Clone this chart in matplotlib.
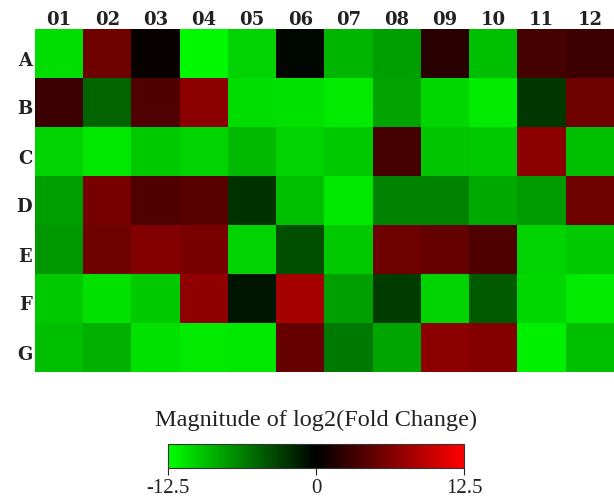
import numpy as np
import matplotlib.pyplot as plt
import matplotlib.transforms as mtransforms
from matplotlib.colors import LinearSegmentedColormap

# ---- plate layout: rows A-G, columns 01-12, log2 fold change ----
ROWS = ["A", "B", "C", "D", "E", "F", "G"]
COLS = ["01", "02", "03", "04", "05", "06", "07", "08", "09", "10", "11", "12"]

row_A = [-10.8, 5.4, 0.3, -12.2, -10.3, -0.3, -8.8, -7.8, 2.0, -9.3, 3.4, 3.0]
row_B = [3.0, -4.9, 4.0, 6.9, -10.8, -11.0, -11.5, -8.0, -10.5, -11.5, -2.7, 5.4]
row_C = [-10.3, -11.3, -9.8, -10.3, -9.0, -10.3, -9.8, 3.4, -9.6, -9.8, 6.9, -9.3]
row_D = [-7.8, 5.9, 3.9, 4.2, -2.5, -9.3, -11.3, -6.4, -6.4, -8.3, -7.6, 5.4]
row_E = [-7.4, 5.4, 6.4, 5.9, -10.3, -3.9, -9.8, 5.4, 4.9, 3.9, -10.3, -9.8]
row_F = [-9.8, -11.0, -9.8, 7.1, -1.0, 8.1, -7.8, -2.9, -10.3, -4.4, -10.5, -11.5]
row_G = [-9.3, -8.6, -11.0, -11.5, -11.3, 4.9, -5.9, -8.1, 6.9, 6.4, -11.8, -9.3]

VMIN, VMAX = -12.5, 12.5

data = np.array([row_A, row_B, row_C, row_D, row_E, row_F, row_G])
cmap = LinearSegmentedColormap.from_list("gkr", ["#00ff00", "#000000", "#ff0000"])

fig = plt.figure(figsize=(6.14, 5.04), dpi=100)
ax = fig.add_axes([35/614, 1-372/504, 579/614, 343/504])
ax.imshow(data, cmap=cmap, vmin=VMIN, vmax=VMAX, aspect="auto",
          interpolation="nearest")
ax.xaxis.tick_top()
ax.set_xticks(np.arange(len(COLS)))
ax.set_xticklabels(COLS, fontsize=13, fontweight="bold", family="DejaVu Serif",
                   color="#222222")
ax.set_yticks(np.arange(len(ROWS)))
ax.set_yticklabels(ROWS, fontsize=13, fontweight="bold", family="DejaVu Serif",
                   color="#222222")
ax.tick_params(length=0, pad=2)
ax.tick_params(axis="x", pad=0)
# row letters sit a little below the row centres in the original
shift = mtransforms.ScaledTranslation(0, -5/100, fig.dpi_scale_trans)
for lab in ax.get_yticklabels():
    lab.set_transform(lab.get_transform() + shift)
for s in ax.spines.values():
    s.set_visible(False)

# colour scale bar
cax = fig.add_axes([168/614, 1-468/504, 296/614, 24/504])
sm = plt.cm.ScalarMappable(cmap=cmap, norm=plt.Normalize(VMIN, VMAX))
cb = fig.colorbar(sm, cax=cax, orientation="horizontal")
cb.set_ticks([VMIN, 0, VMAX])
cb.set_ticklabels(["-12.5", "0", "12.5"])
cax.tick_params(labelsize=15, length=5, width=0.8, pad=3, colors="#222222")
for lab in cax.get_xticklabels():
    lab.set_family("Liberation Serif")
cb.outline.set_linewidth(0.8)
cb.outline.set_edgecolor("#333333")
cax.set_title("Magnitude of log2(Fold Change)", fontsize=17.5,
              family="Liberation Serif", pad=13, color="#222222")

fig.savefig("out.png", dpi=100)
